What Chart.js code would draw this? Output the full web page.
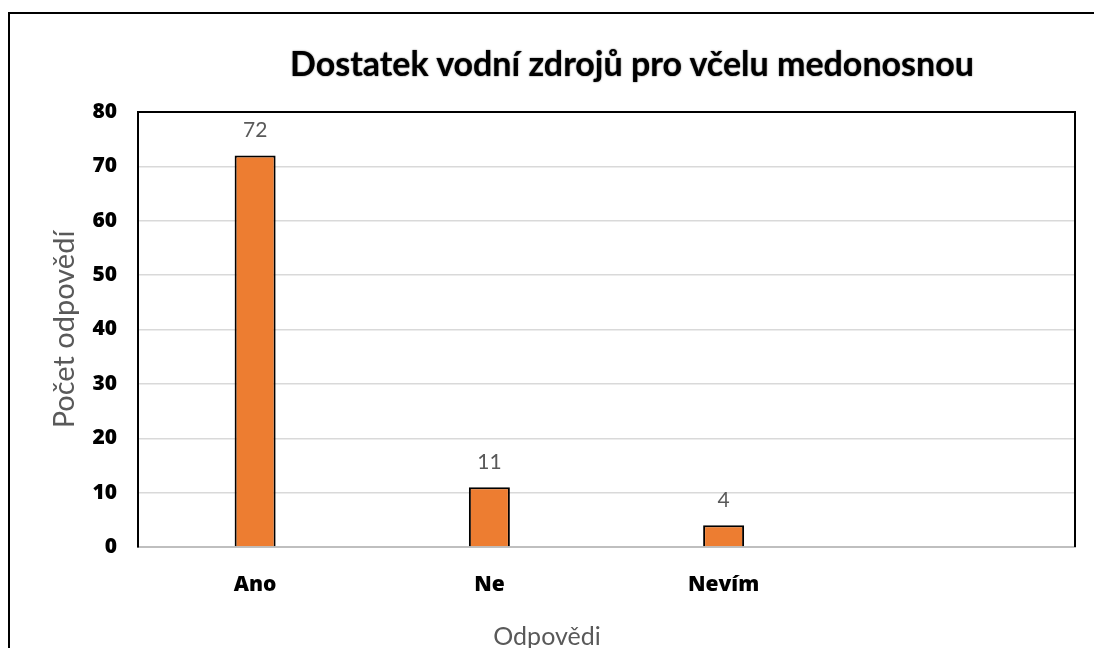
<!DOCTYPE html>
<html>
<head>
<meta charset="utf-8">
<script src="https://cdn.jsdelivr.net/npm/chart.js@4/dist/chart.umd.min.js"></script>
<style>
body { margin: 0; overflow: hidden; background: #fff; font-family: Lato, "Open Sans", sans-serif; }
#frame { position: absolute; left: 8px; top: 12px; width: 1200px; height: 700px; border-left: 2px solid #000; border-top: 2px solid #000; }
#chartTitle { position: absolute; left: 0; top: 42px; width: 1264px; text-align: center; font-size: 34px; line-height: 42px; font-weight: bold; color: #000; text-shadow: 0 0 1px #777, 0 0 2px #999; }
#xTitle { position: absolute; left: 0; top: 620px; width: 1094px; text-align: center; font-size: 25px; line-height: 30px; color: #595959; }
canvas { position: absolute; left: 0; top: 0; }
</style>
</head>
<body>
<div id="frame"></div>
<canvas id="myChart" width="1094" height="648"></canvas>
<div id="chartTitle">Dostatek vodní zdrojů pro včelu medonosnou</div>
<div id="xTitle">Odpovědi</div>
<script>
var categories = ['Ano', 'Ne', 'Nevím', ''];
var answers = [72, 11, 4, null];
var yTitle = 'Počet odpovědí';

// hodnoty nad sloupci
var valueLabels = {
    id: 'valueLabels',
    afterDatasetsDraw: function (chart) {
        var ctx = chart.ctx;
        var meta = chart.getDatasetMeta(0);
        ctx.save();
        ctx.font = '21px Lato';
        ctx.fillStyle = '#595959';
        ctx.textAlign = 'center';
        ctx.textBaseline = 'middle';
        meta.data.forEach(function (bar, i) {
            if (answers[i] == null) return;
            ctx.fillText(answers[i], bar.x, bar.y - 25);
        });
        ctx.restore();
    }
};

// horni a prava cast ramecku grafu
var plotFrame = {
    id: 'plotFrame',
    beforeDatasetsDraw: function (chart) {
        var a = chart.chartArea;
        var ctx = chart.ctx;
        ctx.save();
        ctx.strokeStyle = '#000';
        ctx.lineWidth = 2;
        ctx.beginPath();
        ctx.moveTo(a.left, a.top);
        ctx.lineTo(a.right, a.top);
        ctx.lineTo(a.right, a.bottom);
        ctx.stroke();
        ctx.restore();
    }
};

var tickFont = { family: '"Open Sans"', size: 21, weight: '800' };

var ctx = document.getElementById('myChart').getContext('2d');
var myChart = new Chart(ctx, {
    type: 'bar',
    data: {
        labels: categories,
        datasets: [{
            data: answers,
            backgroundColor: '#ED7D31',
            borderColor: '#000',
            borderWidth: 2,
            borderSkipped: 'bottom',
            categoryPercentage: 1,
            barPercentage: 0.175
        }]
    },
    options: {
        responsive: false,
        devicePixelRatio: 1,
        animation: false,
        layout: { padding: { left: 0, top: 112, right: 19, bottom: 0 } },
        plugins: {
            legend: { display: false },
            title: { display: false },
            tooltip: { enabled: false }
        },
        scales: {
            x: {
                grid: { display: false },
                border: { color: '#bfbfbf', width: 2 },
                ticks: { color: '#000', padding: 17, font: tickFont },
                afterFit: function (scale) { scale.height = 101; }
            },
            y: {
                min: 0,
                max: 80,
                ticks: { stepSize: 10, color: '#000', padding: 21, font: tickFont },
                grid: { color: '#d9d9d9', lineWidth: 1.5, drawTicks: false },
                border: { color: '#000', width: 2 },
                title: {
                    display: true,
                    text: yTitle,
                    color: '#595959',
                    padding: { top: 47, bottom: 0 },
                    font: { family: 'Lato', size: 29, weight: 'normal' }
                },
                afterFit: function (scale) { scale.width = 138; }
            }
        }
    },
    plugins: [plotFrame, valueLabels]
});
</script>
</body>
</html>
